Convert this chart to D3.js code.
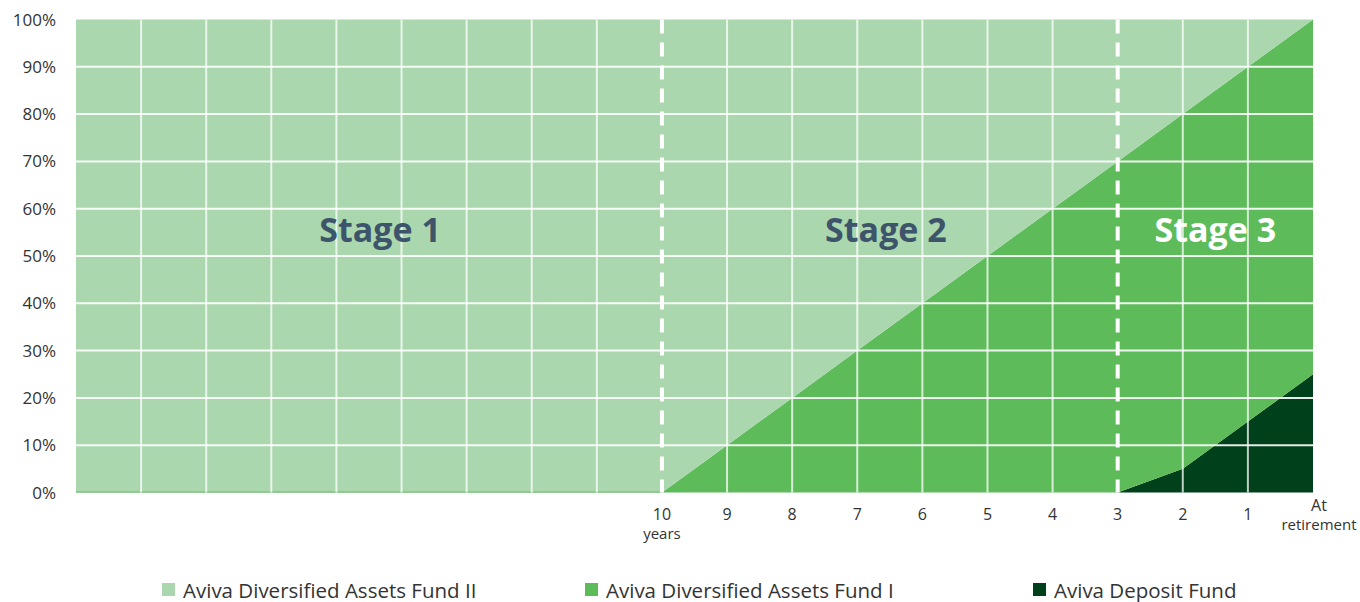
<!DOCTYPE html>
<html>
<head>
<meta charset="utf-8">
<script src="https://cdn.jsdelivr.net/npm/d3@7"></script>
<style>
  body { margin: 0; background: #fff; }
  svg { font-family: "Open Sans", sans-serif; }
</style>
</head>
<body>
<svg id="chart" width="1360" height="602"></svg>
<script>
// years left until retirement, one column each
const yearsLeft   = [19,18,17,16,15,14,13,12,11,10,9,8,7,6,5,4,3,2,1,0];
const depositFund = [0,0,0,0,0,0,0,0,0,0,0,0,0,0,0,0,0,5,15,25];
const fundI       = [0,0,0,0,0,0,0,0,0,0,10,20,30,40,50,60,70,75,75,75];
const fundII      = [100,100,100,100,100,100,100,100,100,100,90,80,70,60,50,40,30,20,10,0];
const yTicks      = [0,10,20,30,40,50,60,70,80,90,100];
const xLabels     = {10: ["10","years"], 9:["9"], 8:["8"], 7:["7"], 6:["6"], 5:["5"], 4:["4"], 3:["3"], 2:["2"], 1:["1"], 0:["At","retirement"]};
const stageYears  = [10, 3];
const stages      = [{name:"Stage 1", at:14.33, fill:"#3d546b"}, {name:"Stage 2", at:6.56, fill:"#3d546b"}, {name:"Stage 3", at:1.5, fill:"#ffffff"}];
const legendItems = [
  {key:"fundII",  label:"Aviva Diversified Assets Fund II", color:"#aad7ae", x:162},
  {key:"fundI",   label:"Aviva Diversified Assets Fund I",  color:"#5dbb5a", x:585},
  {key:"deposit", label:"Aviva Deposit Fund",               color:"#00401a", x:1033}
];

let chart = d3.select("#chart");
let rows = yearsLeft.map((yr,i) => ({yr:yr, deposit:depositFund[i], fundI:fundI[i], fundII:fundII[i]}));

// scales
let x = d3.scaleLinear().domain([19,0]).range([76,1313]);
let y = d3.scaleLinear().domain([0,100]).range([492.5,19.5]);
let colors = {deposit:"#00401a", fundI:"#5dbb5a", fundII:"#aad7ae"};

let series = d3.stack().keys(["deposit","fundI","fundII"])(rows);
let area = d3.area()
    .x(d => x(d.data.yr))
    .y0(d => y(d[0]))
    .y1(d => y(d[1]));

chart.append("g").selectAll("path")
    .data(series).enter()
    .append("path")
      .attr("d", area)
      .attr("fill", d => colors[d.key]);

// faint baseline where fund I sits at zero
chart.append("line")
    .attr("x1", x(19)).attr("x2", x(10))
    .attr("y1", y(0)-0.5).attr("y2", y(0)-0.5)
    .attr("stroke", "#7fc47f").attr("stroke-width", 1.5);

// grid
chart.append("g").selectAll("line")
    .data(yTicks.filter(t => t > 0 && t < 100)).enter()
    .append("line")
      .attr("x1", x(19)).attr("x2", x(0))
      .attr("y1", d => y(d)).attr("y2", d => y(d))
      .attr("stroke", "#fff").attr("stroke-opacity", 0.9).attr("stroke-width", 2);

chart.append("g").selectAll("line")
    .data(yearsLeft.filter(v => v > 0 && v < 19 && !stageYears.includes(v))).enter()
    .append("line")
      .attr("x1", d => x(d)).attr("x2", d => x(d))
      .attr("y1", y(100)).attr("y2", y(0))
      .attr("stroke", "#fff").attr("stroke-opacity", 0.75).attr("stroke-width", 2);

// stage dividers
chart.append("g").selectAll("line")
    .data(stageYears).enter()
    .append("line")
      .attr("x1", d => x(d)).attr("x2", d => x(d))
      .attr("y1", y(100)).attr("y2", y(0))
      .attr("stroke", "#fff").attr("stroke-width", 4)
      .attr("stroke-dasharray", "14,9");

// stage titles
chart.append("g").selectAll("text")
    .data(stages).enter()
    .append("text")
      .text(d => d.name)
      .attr("x", d => x(d.at))
      .attr("y", y(53))
      .attr("text-anchor", "middle")
      .attr("font-size", 34)
      .attr("font-weight", 700)
      .attr("fill", d => d.fill);

// y axis labels
chart.append("g").selectAll("text")
    .data(yTicks).enter()
    .append("text")
      .text(d => d + "%")
      .attr("x", 56)
      .attr("y", d => y(d) + 6)
      .attr("text-anchor", "end")
      .attr("font-size", 17)
      .attr("fill", "#333");

// x axis labels, one text per line
let xRows = [];
Object.keys(xLabels).map(Number).forEach(yr => {
  xLabels[yr].forEach((s,i) => xRows.push({yr:yr, s:s, line:i}));
});
chart.append("g").selectAll("text")
    .data(xRows).enter()
    .append("text")
      .text(d => d.s)
      .attr("x", d => x(d.yr) + (d.yr === 0 ? 6 : 0))
      .attr("y", d => (d.yr === 0 ? 511 : 520) + d.line * 19)
      .attr("text-anchor", "middle")
      .attr("font-size", d => d.line === 0 ? 16 : 15)
      .attr("fill", "#333");

// legend
let lg = chart.append("g").selectAll("g")
    .data(legendItems).enter()
    .append("g")
      .attr("transform", d => "translate(" + d.x + ",583)");
lg.append("rect")
    .attr("width", 13).attr("height", 13)
    .attr("fill", d => d.color);
lg.append("text")
    .text(d => d.label)
    .attr("x", 21).attr("y", 14.5)
    .attr("font-size", 20.5)
    .attr("fill", "#333");
</script>
</body>
</html>
